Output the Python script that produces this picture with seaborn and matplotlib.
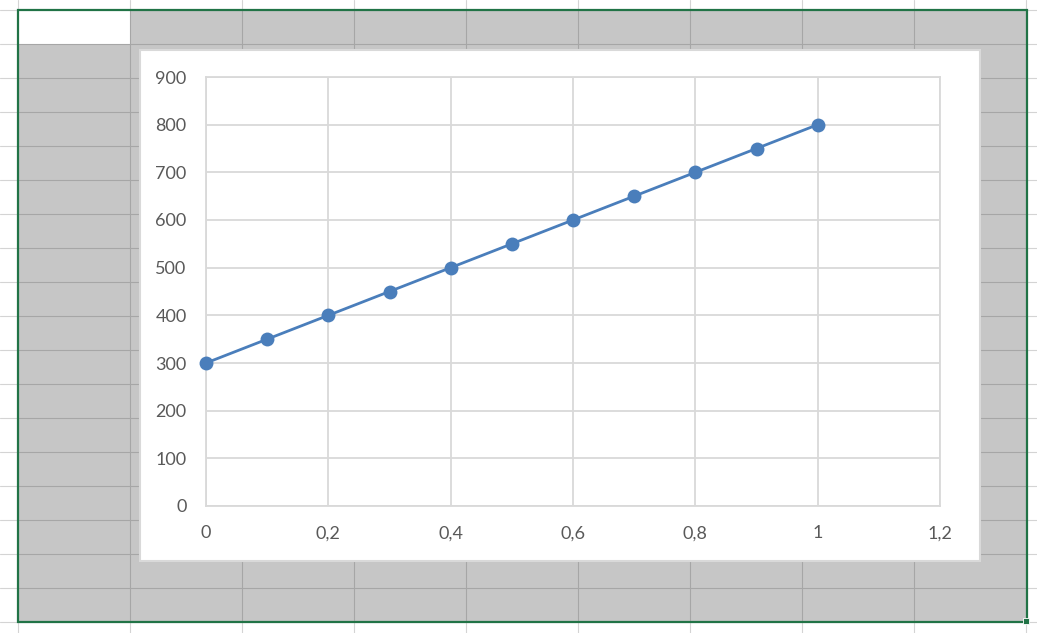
import numpy as np
import matplotlib
matplotlib.use('Agg')
import matplotlib.pyplot as plt
import pandas as pd
import seaborn as sns
from matplotlib.patches import Rectangle

sns.set_style("white")
plt.rcParams['font.family'] = ['Lato', 'DejaVu Sans']

# data of the series
x_vals = [0, 0.1, 0.2, 0.3, 0.4, 0.5, 0.6, 0.7, 0.8, 0.9, 1.0]
y_vals = [300, 350, 400, 450, 500, 550, 600, 650, 700, 750, 800]
x_ticks = [0, 0.2, 0.4, 0.6, 0.8, 1.0, 1.2]
x_ticklabels = ['0', '0,2', '0,4', '0,6', '0,8', '1', '1,2']
y_ticks = [0, 100, 200, 300, 400, 500, 600, 700, 800, 900]

df = pd.DataFrame({'x': x_vals, 'y': y_vals})

W, H = 1037, 633
fig = plt.figure(figsize=(W / 100, H / 100), dpi=100)

# spreadsheet backdrop (pixel coords)
bg = fig.add_axes([0, 0, 1, 1])
bg.set_xlim(0, W)
bg.set_ylim(H, 0)
bg.axis('off')
col_lines = [18, 130, 242, 354, 466, 578, 690, 802, 914, 1026]
row_lines = list(range(10, 640, 34))
for cx in col_lines:
    bg.plot([cx, cx], [0, H], color='#D4D4D4', lw=0.8, zorder=1)
for ry in row_lines:
    bg.plot([0, W], [ry, ry], color='#D4D4D4', lw=0.8, zorder=1)

# selected range in gray
bg.add_patch(Rectangle((18, 10), 1009, 612, facecolor='#C6C6C6', edgecolor='none', zorder=2))
bg.add_patch(Rectangle((19, 11), 111, 33, facecolor='white', edgecolor='none', zorder=3))
for cx in col_lines[1:-1]:
    bg.plot([cx, cx], [10, 622], color='#A6A6A6', lw=0.8, zorder=3)
for ry in row_lines[1:-1]:
    bg.plot([18, 1027], [ry, ry], color='#A6A6A6', lw=0.8, zorder=3)
bg.add_patch(Rectangle((18, 10), 1009, 612, facecolor='none', edgecolor='#217346', lw=1.6, zorder=5))
bg.add_patch(Rectangle((1023, 618), 6, 6, facecolor='#217346', edgecolor='white', lw=0.6, zorder=6))

# chart area
bg.add_patch(Rectangle((140, 50), 840, 511, facecolor='white', edgecolor='#D9D9D9', lw=1.5, zorder=6))

# plot area
ax = fig.add_axes([206 / W, (H - 506) / H, (940 - 206) / W, (506 - 77) / H], zorder=10)
sns.lineplot(data=df, x='x', y='y', marker='o', markersize=10, markeredgewidth=0,
             color='#4A7EBB', linewidth=2.0, ax=ax, zorder=5, clip_on=False)
ax.set_xlim(0, 1.2)
ax.set_ylim(0, 900)
ax.set_xticks(x_ticks)
ax.set_xticklabels(x_ticklabels)
ax.set_yticks(y_ticks)
ax.grid(True, color='#D9D9D9', linewidth=1.3)
for s in ax.spines.values():
    s.set_color('#D9D9D9')
    s.set_linewidth(1.3)
ax.set_xlabel('')
ax.set_ylabel('')
ax.tick_params(axis='both', length=0, labelsize=13, labelcolor='#595959')
ax.tick_params(axis='x', pad=14)
ax.tick_params(axis='y', pad=14)
ax.set_facecolor('white')

fig.savefig('out.png', dpi=100)
